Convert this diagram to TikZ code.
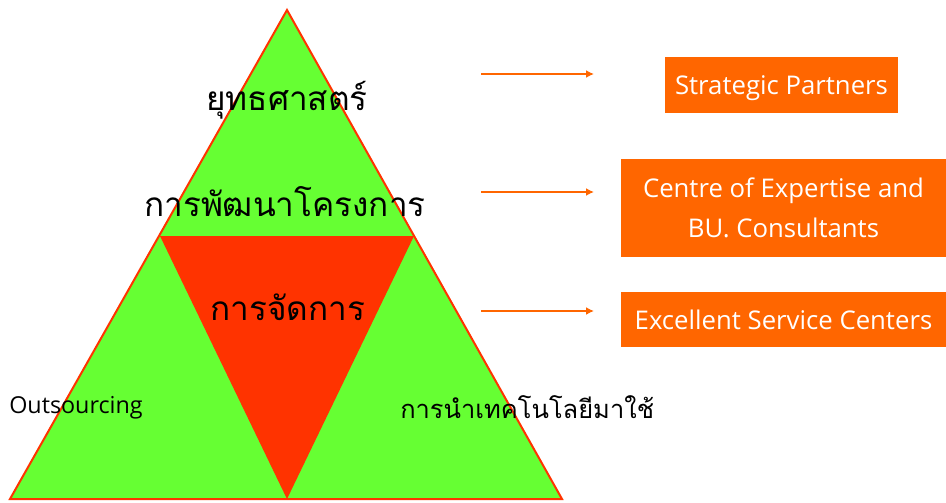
\documentclass[tikz,border=0pt]{standalone}
\usepackage{fontspec}
\setmainfont{Open Sans}
\newfontfamily\thaifont[Script=Thai]{Loma}
\usetikzlibrary{positioning,arrows.meta}
\definecolor{leafgreen}{HTML}{66FF33}
\definecolor{corered}{HTML}{FF3300}
\definecolor{boxorange}{HTML}{FF6600}
\tikzset{
  thai/.style = {font=\thaifont\fontsize{25}{27}\selectfont, inner sep=0pt, anchor=base},
  unit/.style = {rectangle, fill=boxorange, text=white, align=center, inner sep=0pt,
                 font=\fontsize{19.3}{30}\selectfont},
  link/.style = {draw=boxorange, line width=1.6pt, -{Latex[length=6pt,width=6pt]}}
}

\begin{document}
\begin{tikzpicture}[x=0.75pt, y=-0.75pt]
\useasboundingbox (0,0) rectangle (946,503);

% pyramid corners
\coordinate (apex) at (287,10);
\coordinate (bl) at (10,499);
\coordinate (br) at (562,499);
\coordinate (ml) at (160,236);
\coordinate (mr) at (414,236);
\coordinate (mb) at (287,499);

\fill[leafgreen] (apex) -- (br) -- (bl) -- cycle;
\fill[corered] (ml) -- (mr) -- (mb) -- cycle;
\draw[corered, line width=1.5pt, line join=miter] (apex) -- (br) -- (bl) -- cycle;

\node[thai] (strategy) at (287,110) {ยุทธศาสตร์};
\node[thai] (projects) at (285,216) {การพัฒนาโครงการ};
\node[thai] (manage) at (288,320) {การจัดการ};
\node[font=\fontsize{17.5}{18}\selectfont, inner sep=0pt, anchor=base west] (outsrc) at (9,413) {Outsourcing};
\node[thai, font=\thaifont\fontsize{19.1}{21}\selectfont, anchor=base west] (tech) at (400,418) {การนำเทคโนโลยีมาใช้};

% right hand boxes
\node[unit, minimum width=174.75pt, minimum height=42pt, text depth=0pt] (partners) at (781.5,85) {Strategic Partners};
\node[unit, minimum width=243.75pt, minimum height=73.5pt] (expertise) at (783.5,208) {Centre of Expertise and\\BU. Consultants};
\node[unit, minimum width=243.75pt, minimum height=41.25pt] (service) at (783.5,319.5) {Excellent Service Centers};

\coordinate (s1) at (481,74);  \coordinate (e1) at (594,74);
\coordinate (s2) at (481,192); \coordinate (e2) at (594,192);
\coordinate (s3) at (481,311); \coordinate (e3) at (594,311);
\draw[link] (s1) -- (e1);
\draw[link] (s2) -- (e2);
\draw[link] (s3) -- (e3);

\end{tikzpicture}
\end{document}
